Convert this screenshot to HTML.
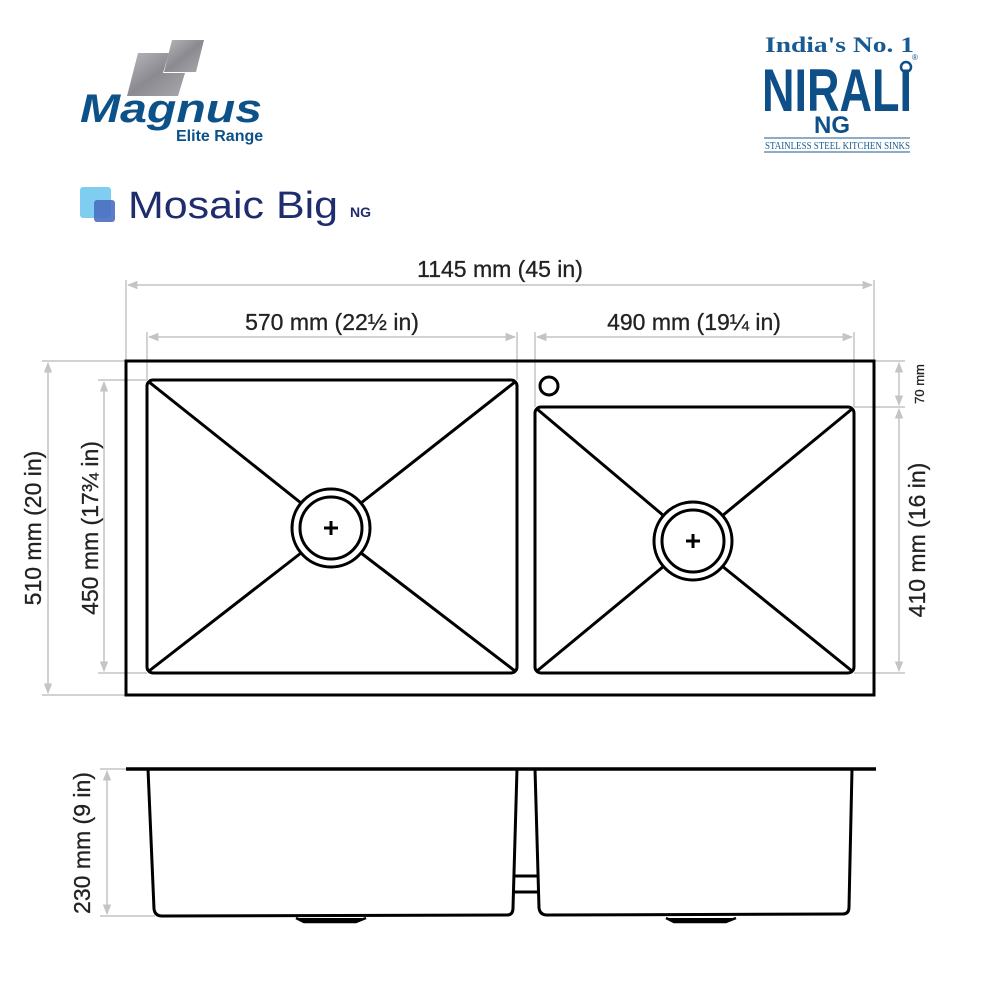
<!DOCTYPE html>
<html><head><meta charset="utf-8"><style>
html,body{margin:0;padding:0;background:#fff;}
svg{display:block;}
</style></head><body>
<svg width="1000" height="1000" viewBox="0 0 1000 1000" xmlns="http://www.w3.org/2000/svg" font-family="Liberation Sans, sans-serif">
<defs>
<linearGradient id="st" x1="0" y1="0" x2="1" y2="1"><stop offset="0" stop-color="#b8b8bc"/><stop offset="0.5" stop-color="#8a8a90"/><stop offset="1" stop-color="#a8a8ac"/></linearGradient>
<marker id="ar" viewBox="0 0 10 10" refX="9" refY="5" markerWidth="7" markerHeight="7" orient="auto-start-reverse"><path d="M0,1 L10,5 L0,9 z" fill="#c4c4c4"/></marker>
</defs>
<!-- Magnus logo -->
<polygon points="172,40 204,40 196,72 164,72" fill="url(#st)"/>
<polygon points="138,53 169,53 163,73 185,73 178,96 127,96" fill="url(#st)"/>
<text x="80" y="122" font-size="40" font-weight="bold" font-style="italic" fill="#0d5189" textLength="182" lengthAdjust="spacingAndGlyphs">Magnus</text>
<text x="176" y="141" font-size="16" font-weight="bold" fill="#0d5189">Elite Range</text>
<!-- Mosaic -->
<rect x="80" y="187" width="31" height="31" rx="3" fill="#7fcdf0"/>
<rect x="94" y="200" width="21" height="22" rx="3" fill="#4a6fc0" opacity="0.9"/>
<text x="128" y="218" font-size="38" fill="#1f2d6e" textLength="210" lengthAdjust="spacingAndGlyphs">Mosaic Big</text>
<text x="350" y="217" font-size="14" font-weight="bold" fill="#1f2d6e">NG</text>
<!-- Nirali -->
<text x="765" y="52" font-family="Liberation Serif, serif" font-size="22" font-weight="bold" fill="#1a5a92" textLength="149" lengthAdjust="spacingAndGlyphs">India's No. 1</text>
<text x="762" y="111" font-size="60" font-weight="bold" fill="#0e4f88" textLength="150" lengthAdjust="spacingAndGlyphs">NIRALI</text>
<circle cx="906" cy="67" r="5" fill="none" stroke="#0e4f88" stroke-width="2.5"/>
<text x="912" y="60" font-size="8" fill="#0e4f88">®</text>
<text x="832" y="133" font-size="24" font-weight="bold" fill="#0e4f88" text-anchor="middle">NG</text>
<line x1="764" y1="138" x2="910" y2="138" stroke="#1a5a92" stroke-width="1"/>
<text x="765" y="149" font-family="Liberation Serif, serif" font-size="10" fill="#1a5a92" textLength="145" lengthAdjust="spacingAndGlyphs">STAINLESS STEEL KITCHEN SINKS</text>
<line x1="764" y1="152" x2="910" y2="152" stroke="#1a5a92" stroke-width="1"/>

<!-- dimension lines -->
<g stroke="#c4c4c4" stroke-width="1.5" fill="none">
<line x1="126" y1="280" x2="126" y2="361"/><line x1="874" y1="280" x2="874" y2="361"/>
<line x1="128" y1="285" x2="872" y2="285" marker-start="url(#ar)" marker-end="url(#ar)"/>
<line x1="147" y1="332" x2="147" y2="380"/><line x1="517" y1="332" x2="517" y2="380"/>
<line x1="149" y1="337" x2="515" y2="337" marker-start="url(#ar)" marker-end="url(#ar)"/>
<line x1="535" y1="332" x2="535" y2="407"/><line x1="854" y1="332" x2="854" y2="407"/>
<line x1="537" y1="337" x2="852" y2="337" marker-start="url(#ar)" marker-end="url(#ar)"/>
<line x1="42" y1="361" x2="126" y2="361"/><line x1="42" y1="695" x2="126" y2="695"/>
<line x1="48" y1="363" x2="48" y2="693" marker-start="url(#ar)" marker-end="url(#ar)"/>
<line x1="98" y1="380" x2="147" y2="380"/><line x1="98" y1="673" x2="147" y2="673"/>
<line x1="104" y1="382" x2="104" y2="671" marker-start="url(#ar)" marker-end="url(#ar)"/>
<line x1="874" y1="361" x2="905" y2="361"/><line x1="854" y1="407" x2="905" y2="407"/><line x1="854" y1="673" x2="905" y2="673"/>
<line x1="899" y1="363" x2="899" y2="405" marker-start="url(#ar)" marker-end="url(#ar)"/>
<line x1="899" y1="409" x2="899" y2="671" marker-start="url(#ar)" marker-end="url(#ar)"/>
<line x1="100" y1="769" x2="126" y2="769"/><line x1="100" y1="916" x2="155" y2="916"/>
<line x1="107" y1="771" x2="107" y2="914" marker-start="url(#ar)" marker-end="url(#ar)"/>
</g>
<g font-size="23" fill="#222" text-anchor="middle" stroke="#222" stroke-width="0.3">
<text x="500" y="277">1145 mm (45 in)</text>
<text x="332" y="330">570 mm (22½ in)</text>
<text x="694" y="330">490 mm (19¼ in)</text>
<text transform="translate(41,528) rotate(-90)">510 mm (20 in)</text>
<text transform="translate(98,528) rotate(-90)">450 mm (17¾ in)</text>
<text transform="translate(925,540) rotate(-90)">410 mm (16 in)</text>
<text transform="translate(924,384) rotate(-90)" font-size="13">70 mm</text>
<text transform="translate(90,843) rotate(-90)">230 mm (9 in)</text>
</g>

<!-- top view -->
<g stroke="#000" stroke-width="3" fill="none">
<rect x="126" y="361" width="748" height="334"/>
<rect x="147" y="380" width="370" height="293" rx="6"/>
<rect x="535" y="407" width="319" height="266" rx="6"/>
<circle cx="331" cy="528" r="39"/><circle cx="331" cy="528" r="31"/>
<circle cx="693" cy="541" r="39"/><circle cx="693" cy="541" r="31"/>
<circle cx="549" cy="386" r="9"/>
<line x1="149" y1="382" x2="301" y2="503"/><line x1="515" y1="382" x2="361" y2="503"/>
<line x1="149" y1="671" x2="301" y2="553"/><line x1="515" y1="671" x2="361" y2="553"/>
<line x1="537" y1="409" x2="664" y2="516"/><line x1="852" y1="409" x2="722" y2="516"/>
<line x1="537" y1="671" x2="664" y2="566"/><line x1="852" y1="671" x2="722" y2="566"/>
<line x1="324" y1="528" x2="338" y2="528"/><line x1="331" y1="521" x2="331" y2="535"/>
<line x1="686" y1="541" x2="700" y2="541"/><line x1="693" y1="534" x2="693" y2="548"/>
</g>

<!-- side view -->
<g stroke="#000" stroke-width="3" fill="none" stroke-linejoin="round">
<line x1="126" y1="769" x2="876" y2="769" stroke-width="3.5"/>
<path d="M148,769 L154,909 Q155,916 162,916 L507,915 Q513,915 513,908 L517,769"/>
<path d="M535,769 L539,908 Q540,915 547,915 L843,914 Q849,914 849,907 L852,769"/>
<line x1="515" y1="876" x2="538" y2="876"/>
<line x1="514" y1="892" x2="539" y2="892"/>
<path d="M296,918 L304,922 L356,922 L366,918" stroke-width="2.5" fill="#000"/>
<path d="M666,918 L674,922 L726,922 L736,918" stroke-width="2.5" fill="#000"/>
</g>
</svg>
</body></html>
